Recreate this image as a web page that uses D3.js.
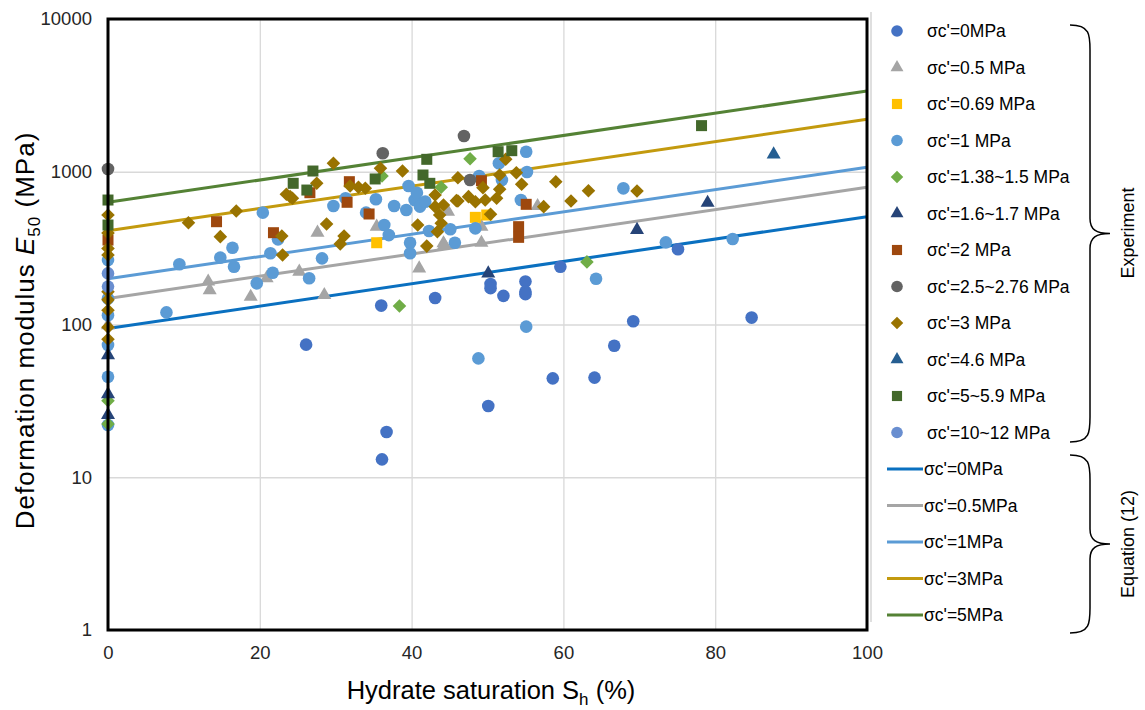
<!DOCTYPE html>
<html>
<head>
<meta charset="utf-8">
<script src="https://cdn.jsdelivr.net/npm/d3@7"></script>
<style>
  body { margin: 0; background: #fff; }
  svg { font-family: "Liberation Sans", Arial, sans-serif; }
</style>
</head>
<body>
<div id="chart"></div>
<script>
// axis ticks
const xTicks = [0, 20, 40, 60, 80, 100];
const yTicks = [1, 10, 100, 1000, 10000];

// experiment series: [Sh (%), E50 (MPa)]
const s0 = [[26.1,73.8],[36.0,133],[43.1,149],[50.4,184],[50.4,173],[52.1,154],[55.0,191],[55.0,164],[55.0,158],
  [58.6,44.4],[50.1,29.3],[36.7,19.8],[36.1,13.1],[75.1,311],[59.6,239],[69.2,105],[66.7,72.6],[64.1,44.9],[84.8,111]];
const s05 = [[0,99],[13.2,191],[13.4,168],[18.8,152],[20.9,201],[25.2,222],[27.6,399],[28.5,156],[35.4,437],[41.0,233],
  [44.2,340],[44.3,332],[44.8,548],[49.2,343],[49.2,437],[56.6,597]];
const s069 = [[35.4,343],[48.4,503],[49.9,521]];
const s1 = [[0,264],[0,148],[0,115],[0,73.5],[0,45.5],[0,22],[7.7,120],[9.4,248],[14.8,274],[16.4,318],[16.6,239],
  [19.6,186],[20.4,540],[21.4,293],[21.7,218],[22.4,361],[26.5,201],[28.2,271],[29.7,597],[31.3,670],[34.0,540],
  [35.3,660],[36.4,448],[37.0,385],[37.7,597],[39.3,562],[39.6,807],[39.8,343],[39.8,293],[40.4,653],[40.7,729],
  [41.1,591],[41.8,637],[42.3,409],[45.1,420],[45.7,343],[48.4,426],[48.8,60],[48.9,938],[51.5,1136],[51.9,883],
  [54.4,653],[55.1,1353],[55.2,996],[55.1,96.8],[64.3,199.5],[67.9,779],[73.5,345],[82.3,363]];
const s138 = [[0,31.7],[0,22.3],[36.1,938],[38.4,132],[43.9,791],[47.7,1217],[63.1,257]];
const s16 = [[0,63],[0,35],[0,25.6],[50.1,216],[69.7,416],[79.0,627]];
const s2 = [[0,357],[14.3,471],[21.8,399],[26.6,729],[31.5,631],[31.8,861],[34.4,529],[49.2,874],[54.1,437],[54.1,372],[55.1,612]];
const s25 = [[0,1042],[36.2,1321],[46.9,1714],[47.7,883]];
const s3 = [[0,521],[0,397],[0,315],[0,285],[0,164],[0,145],[0,124],[0,96],[0,80],[10.6,464],[14.8,376],[16.9,553],
  [22.9,380],[23.0,285],[23.5,712],[24.0,687],[24.3,670],[27.5,840],[28.8,455],[29.7,1136],[30.6,337],[31.1,380],
  [31.9,807],[33.0,791],[33.9,779],[35.9,1054],[38.8,1011],[40.8,448],[42.0,326],[43.1,591],[43.1,705],[43.4,405],
  [43.7,521],[43.9,460],[44.2,606],[45.9,647],[46.1,914],[46.1,644],[47.5,687],[48.4,637],[49.4,787],[49.7,653],
  [50.4,527],[51.2,670],[51.6,952],[51.6,768],[52.4,1206],[53.8,986],[54.5,828],[57.4,591],[59.0,861],[61.0,644],
  [63.3,751],[69.7,748]];
const s46 = [[87.7,1300]];
const s5 = [[0,653],[0,448],[24.4,840],[26.2,759],[27.0,1011],[35.2,897],[41.5,952],[42.0,1206],[42.4,840],
  [51.4,1353],[53.2,1374],[78.2,2004]];
const s10 = [[0,216],[0,177]];

// equation (12) curves
const eq0 = [[0,94],[100,508]];
const eq05 = [[0,148],[100,791]];
const eq1 = [[0,199],[100,1069]];
const eq3 = [[0,411],[100,2205]];
const eq5 = [[0,631],[100,3380]];

const expSeries = [
  {name: "σc'=0MPa", data: s0, shape: "circle", color: "#4472C4"},
  {name: "σc'=0.5 MPa", data: s05, shape: "triangle", color: "#A5A5A5"},
  {name: "σc'=0.69 MPa", data: s069, shape: "square", color: "#FFC000"},
  {name: "σc'=1 MPa", data: s1, shape: "circle", color: "#5B9BD5"},
  {name: "σc'=1.38~1.5 MPa", data: s138, shape: "diamond", color: "#70AD47"},
  {name: "σc'=1.6~1.7 MPa", data: s16, shape: "triangle", color: "#264478"},
  {name: "σc'=2 MPa", data: s2, shape: "square", color: "#9E480E"},
  {name: "σc'=2.5~2.76 MPa", data: s25, shape: "circle", color: "#636363"},
  {name: "σc'=3 MPa", data: s3, shape: "diamond", color: "#997300"},
  {name: "σc'=4.6 MPa", data: s46, shape: "triangle", color: "#255E91"},
  {name: "σc'=5~5.9 MPa", data: s5, shape: "square", color: "#43682B"},
  {name: "σc'=10~12 MPa", data: s10, shape: "circle", color: "#698ED0"}
];

const eqSeries = [
  {name: "σc'=0MPa", data: eq0, color: "#0A70C0"},
  {name: "σc'=0.5MPa", data: eq05, color: "#A5A5A5"},
  {name: "σc'=1MPa", data: eq1, color: "#5B9BD5"},
  {name: "σc'=3MPa", data: eq3, color: "#C39A0E"},
  {name: "σc'=5MPa", data: eq5, color: "#548235"}
];

const W = 1145, H = 710;
const plot = {left: 108, right: 867, top: 19, bottom: 630};

const svg = d3.select("#chart").append("svg").attr("width", W).attr("height", H);

const x = d3.scaleLinear().domain([0, 100]).range([plot.left, plot.right]);
const y = d3.scaleLog().domain([1, 10000]).range([plot.bottom, plot.top]);

// gridlines
svg.append("g")
  .attr("transform", `translate(0, ${plot.bottom})`)
  .call(d3.axisBottom(x).tickValues(xTicks).tickSize(-(plot.bottom - plot.top)).tickFormat(""))
  .call(g => g.select(".domain").remove())
  .selectAll("line").attr("stroke", "#d9d9d9").attr("stroke-width", 1.3);

svg.append("g")
  .attr("transform", `translate(${plot.left}, 0)`)
  .call(d3.axisLeft(y).tickValues(yTicks).tickSize(-(plot.right - plot.left)).tickFormat(""))
  .call(g => g.select(".domain").remove())
  .selectAll("line").attr("stroke", "#d9d9d9").attr("stroke-width", 1.3);

// tick labels
svg.append("g")
  .attr("transform", `translate(0, ${plot.bottom})`)
  .call(d3.axisBottom(x).tickValues(xTicks).tickSize(0).tickPadding(16))
  .call(g => g.select(".domain").remove())
  .selectAll("text").attr("font-size", 18.5).attr("fill", "#262626").attr("font-family", "Liberation Sans, Arial, sans-serif");

svg.append("g")
  .attr("transform", `translate(${plot.left}, 0)`)
  .call(d3.axisLeft(y).tickValues(yTicks).tickSize(0).tickPadding(16).tickFormat(d3.format("d")))
  .call(g => g.select(".domain").remove())
  .selectAll("text").attr("font-size", 18.5).attr("fill", "#262626").attr("font-family", "Liberation Sans, Arial, sans-serif");

// equation lines
const line = d3.line().x(d => x(d[0])).y(d => y(d[1]));
svg.append("g").selectAll("path")
  .data(eqSeries)
  .join("path")
    .attr("d", d => line(d.data))
    .attr("fill", "none")
    .attr("stroke", d => d.color)
    .attr("stroke-width", 3);

// marker shapes
function markerPath(shape, scale) {
  if (shape === "triangle") return d3.symbol(d3.symbolTriangle, 85 * scale)();
  if (shape === "square") return d3.symbol(d3.symbolSquare, 121 * scale)();
  if (shape === "diamond") return d3.symbol(d3.symbolSquare, 92 * scale)();
  return d3.symbol(d3.symbolCircle, 125 * scale)();
}

expSeries.forEach(s => {
  svg.append("g").selectAll("path")
    .data(s.data)
    .join("path")
      .attr("d", markerPath(s.shape, 1))
      .attr("transform", d => `translate(${x(d[0])}, ${y(d[1])})` + (s.shape === "diamond" ? " rotate(45)" : ""))
      .attr("fill", s.color);
});

// frame
svg.append("rect")
  .attr("x", plot.left).attr("y", plot.top)
  .attr("width", plot.right - plot.left).attr("height", plot.bottom - plot.top)
  .attr("fill", "none").attr("stroke", "#000").attr("stroke-width", 3);

// axis titles
svg.append("text")
  .attr("x", 491)
  .attr("y", 699)
  .attr("text-anchor", "middle")
  .attr("font-size", 25.5)
  .attr("fill", "#000")
  .html('Hydrate saturation S<tspan font-size="17" dy="6">h</tspan><tspan dy="-6"> (%)</tspan>');

svg.append("text")
  .attr("transform", `translate(34, ${(plot.top + plot.bottom) / 2 + 6}) rotate(-90)`)
  .attr("text-anchor", "middle")
  .attr("font-size", 26)
  .attr("letter-spacing", 1)
  .attr("fill", "#000")
  .html('Deformation modulus <tspan font-style="italic">E</tspan><tspan font-size="17" dy="6">50</tspan><tspan dy="-6"> (MPa)</tspan>');

// legend
svg.append("line")
  .attr("x1", 871).attr("x2", 871).attr("y1", 12).attr("y2", 622)
  .attr("stroke", "#bfbfbf").attr("stroke-width", 1);

const legX = 897, legTextX = 927;
const leg = svg.append("g");
expSeries.forEach((s, i) => {
  const ly = 31 + i * 36.5;
  leg.append("path")
    .attr("d", markerPath(s.shape, 0.85))
    .attr("transform", `translate(${legX}, ${ly})` + (s.shape === "diamond" ? " rotate(45)" : ""))
    .attr("fill", s.color);
  leg.append("text")
    .attr("x", legTextX).attr("y", ly)
    .attr("dominant-baseline", "central")
    .attr("font-size", 17.5)
    .attr("fill", "#000")
    .text(s.name);
});

eqSeries.forEach((s, i) => {
  const ly = 469 + i * 36.5;
  leg.append("line")
    .attr("x1", 887).attr("x2", 923).attr("y1", ly).attr("y2", ly)
    .attr("stroke", s.color).attr("stroke-width", 3);
  leg.append("text")
    .attr("x", 924).attr("y", ly)
    .attr("dominant-baseline", "central")
    .attr("font-size", 17.5)
    .attr("fill", "#000")
    .text(s.name);
});

// braces
function brace(y0, y1) {
  const xm = (y0 + y1) / 2;
  const x0 = 1070, x1 = 1090, xt = 1110;
  return `M${x0},${y0} C${x1},${y0} ${x1},${y0 + 10} ${x1},${y0 + 25} L${x1},${xm - 15} C${x1},${xm - 4} ${x1 + 6},${xm} ${xt},${xm}` +
    ` C${x1 + 6},${xm} ${x1},${xm + 4} ${x1},${xm + 15} L${x1},${y1 - 25} C${x1},${y1 - 10} ${x1},${y1} ${x0},${y1}`;
}
svg.append("path").attr("d", brace(25, 442)).attr("fill", "none").attr("stroke", "#000").attr("stroke-width", 1.5);
svg.append("path").attr("d", brace(455, 633)).attr("fill", "none").attr("stroke", "#000").attr("stroke-width", 1.5);

svg.append("text")
  .attr("transform", `translate(1128, 233) rotate(-90)`)
  .attr("text-anchor", "middle")
  .attr("dominant-baseline", "central")
  .attr("font-size", 18)
  .text("Experiment");

svg.append("text")
  .attr("transform", `translate(1128, 544) rotate(-90)`)
  .attr("text-anchor", "middle")
  .attr("dominant-baseline", "central")
  .attr("font-size", 18)
  .text("Equation (12)");
</script>
</body>
</html>
